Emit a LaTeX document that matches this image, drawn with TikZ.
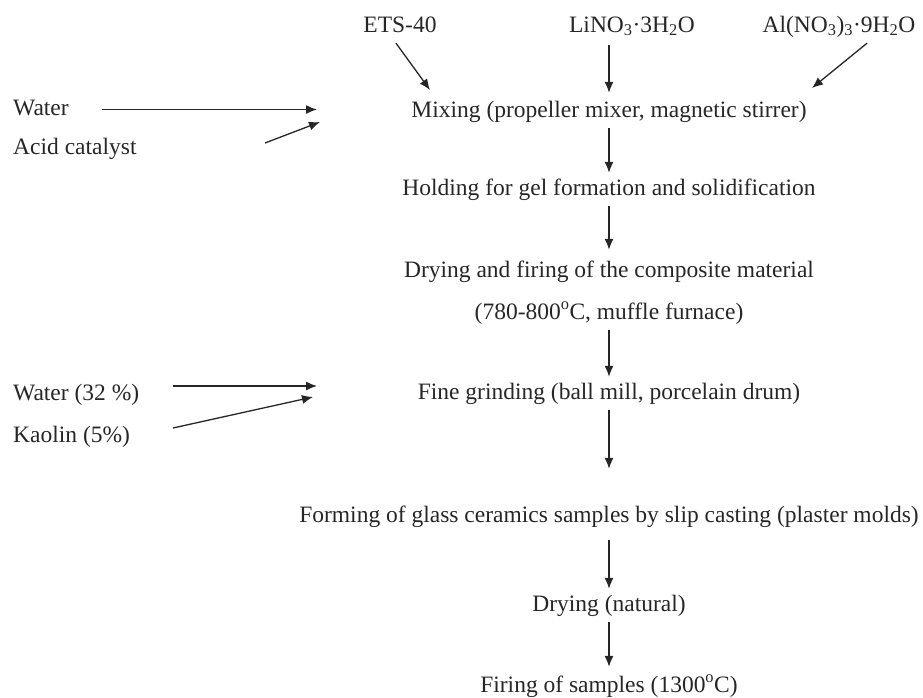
\documentclass[tikz,border=0pt]{standalone}
\usepackage{fontspec}
\setmainfont{Liberation Serif}
\usetikzlibrary{arrows.meta}
\begin{document}
\begin{tikzpicture}[x=1pt,y=-1pt,
  lbl/.style={inner xsep=0pt, inner ysep=0pt, text height=22pt, text depth=11pt,
    anchor=base, font=\fontsize{23.5}{28}\selectfont, text=black!85},
  arr/.style={-{Latex[length=11pt,width=9pt]}, line width=1.3pt, draw=black!85}]
\useasboundingbox (0,0) rectangle (923,697);
% top inputs
\node[lbl] (ets) at (400,32) {ETS-40};
\node[lbl] (lino) at (632,32) {LiNO\textsubscript{3}·3H\textsubscript{2}O};
\node[lbl] (al) at (839,32) {Al(NO\textsubscript{3})\textsubscript{3}·9H\textsubscript{2}O};
% main column
\node[lbl] (mix) at (609,117) {Mixing (propeller mixer, magnetic stirrer)};
\node[lbl] (hold) at (609,195) {Holding for gel formation and solidification};
\node[lbl] (dry1) at (609,277) {Drying and firing of the composite material};
\node[lbl] (dry2) at (609,319) {(780-800\textsuperscript{o}C, muffle furnace)};
\node[lbl] (fine) at (609,399) {Fine grinding (ball mill, porcelain drum)};
\node[lbl] (form) at (609,522) {Forming of glass ceramics samples by slip casting (plaster molds)};
\node[lbl] (drn) at (609,611) {Drying (natural)};
\node[lbl] (fire) at (609,692) {Firing of samples (1300\textsuperscript{o}C)};
% left inputs
\node[lbl,anchor=base west] (water) at (13,115) {Water};
\node[lbl,anchor=base west] (acid) at (13,154) {Acid catalyst};
\node[lbl,anchor=base west] (water2) at (13,400) {Water (32 \%)};
\node[lbl,anchor=base west] (kaolin) at (13,442) {Kaolin (5\%)};
% free arrow ends
\coordinate (etsE) at (430,90);
\coordinate (alE) at (812,88);
\coordinate (watE) at (317,108);
\coordinate (acS) at (265,143);
\coordinate (acE) at (320,122);
\coordinate (w2S) at (173,386);
\coordinate (w2E) at (317,386);
\coordinate (kaS) at (173,428);
\coordinate (kaE) at (313,397);
% arrows
\draw[arr] ([xshift=-4pt]ets.south) -- (etsE);
\draw[arr, shorten <=2pt, shorten >=2pt] (lino.south -| mix.north) -- (mix.north);
\draw[arr] ([xshift=28pt]al.south) -- (alE);
\draw[arr, shorten <=33pt] (water.east) -- (water.east -| watE);
\draw[arr] (acS) -- (acE);
\draw[arr] (mix.south) -- (hold.north);
\draw[arr, shorten >=5pt] (hold.south) -- (dry1.north);
\draw[arr] (dry2.south) -- (fine.north);
\draw[arr] (w2S) -- (w2E);
\draw[arr] (kaS) -- (kaE);
\draw[arr, shorten >=31pt] (fine.south) -- (form.north);
\draw[arr, shorten <=7pt] (form.south) -- (drn.north);
\draw[arr, shorten >=3pt] (drn.south) -- (fire.north);
\end{tikzpicture}
\end{document}
